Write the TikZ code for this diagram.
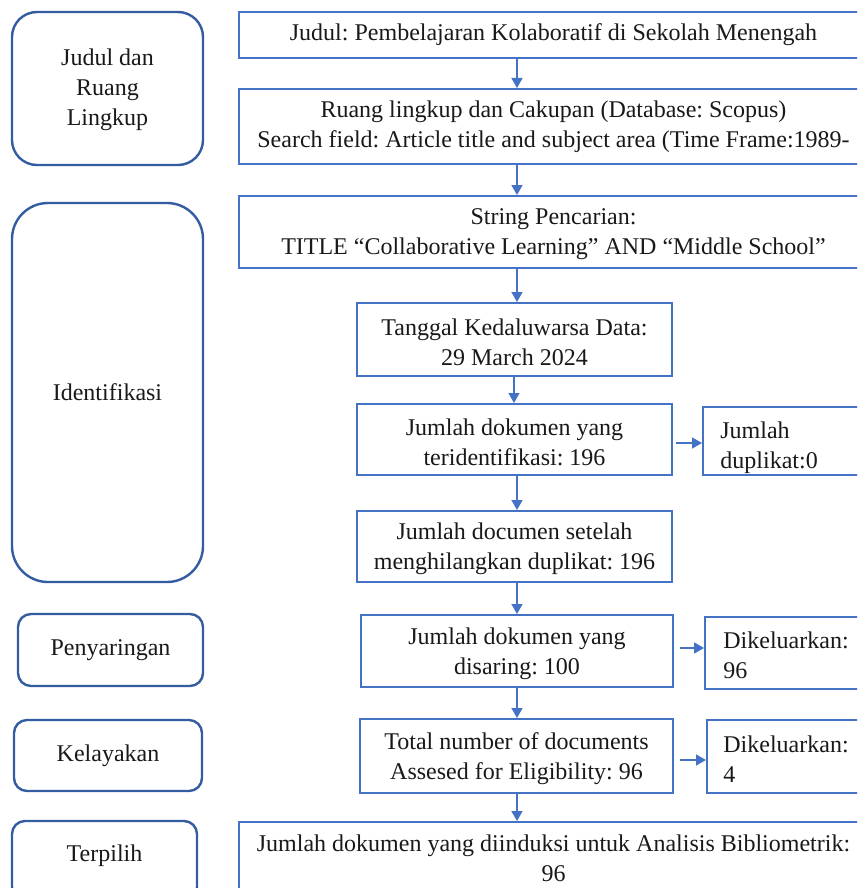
\documentclass[tikz,border=0pt]{standalone}
\usepackage{fontspec}
\setmainfont{Liberation Serif}
\frenchspacing
\usetikzlibrary{arrows.meta}
\definecolor{boxblue}{RGB}{68,114,196}
\definecolor{roundblue}{RGB}{52,92,160}
\definecolor{arrblue}{RGB}{68,114,196}
\definecolor{txt}{RGB}{25,25,25}
\tikzset{
  box/.style={draw=boxblue, line width=1pt, inner sep=0pt, align=center, text=txt, font=\fontsize{12}{15}\selectfont\frenchspacing},
  rbox/.style={draw=roundblue, line width=1.2pt, inner sep=0pt, align=center, text=txt, font=\fontsize{12}{15}\selectfont\frenchspacing, rounded corners=#1},
  rbox/.default=6.5pt,
  lab/.style={inner sep=0pt, align=left, text=txt, font=\fontsize{12}{15}\selectfont\frenchspacing},
  arr/.style={draw=arrblue, line width=0.75pt, -{Triangle[width=5.5pt,length=5pt]}, arrblue}
}
\begin{document}
\begin{tikzpicture}[x=0.5pt,y=-0.5pt]
\useasboundingbox (0,0) rectangle (857,888);
\clip (0,0) rectangle (857,888);
\fill[white] (0,0) rectangle (857,888);
% left rounded boxes
\node[rbox=12.5pt, minimum width=95.5pt, minimum height=76.5pt] (L1) at (107.5,88.5) {};
\node[lab, align=center] (L1t) at (107.5,90) {Judul dan\\Ruang\\Lingkup};
\node[rbox=18pt, minimum width=95.5pt, minimum height=189.5pt] (L2) at (107.5,392.5) {Identifikasi};
\node[rbox, minimum width=92.5pt, minimum height=36pt] (L3) at (110.5,650) {Penyaringan};
\node[rbox, minimum width=94pt, minimum height=35.5pt] (L4) at (108,755.5) {Kelayakan};
\node[rbox, minimum width=92.5pt, minimum height=39.5pt] (L5) at (104.5,860.5) {};
\node[lab] (L5t) at (104.5,856) {Terpilih};
% main column
\node[box, minimum width=314.5pt, minimum height=23pt] (A) at (553.5,35) {Judul: Pembelajaran Kolaboratif di Sekolah Menengah};
\node[box, minimum width=314.5pt, minimum height=37.5pt] (B) at (553.5,126.5) {Ruang lingkup dan Cakupan (Database: Scopus)\\Search field: Article title and subject area (Time Frame:1989-};
\node[box, minimum width=314.5pt, minimum height=36pt] (C) at (553.5,232) {};
\node[lab, align=center] (Ct) at (553.5,234) {String Pencarian:\\TITLE “Collaborative Learning” AND “Middle School”};
\node[box, minimum width=157.5pt, minimum height=36.5pt] (D) at (514.5,339.5) {};
\node[lab, align=center] (Dt) at (514.5,342) {Tanggal Kedaluwarsa Data:\\29 March 2024};
\node[box, minimum width=157.5pt, minimum height=35.5pt] (E) at (514.5,439.5) {};
\node[lab, align=center] (Et) at (514.5,442) {Jumlah dokumen yang\\teridentifikasi: 196};
\node[box, minimum width=157.5pt, minimum height=35.5pt] (G) at (514.5,546.5) {};
\node[lab, align=center] (Gt) at (514.5,548.5) {Jumlah documen setelah\\menghilangkan duplikat: 196};
\node[box, minimum width=156pt, minimum height=36pt] (H) at (517,651) {};
\node[lab, align=center] (Ht) at (517,653.5) {Jumlah dokumen yang\\disaring: 100};
\node[box, minimum width=156.5pt, minimum height=37pt] (I) at (516.5,756) {};
\node[lab, align=center] (It) at (516.5,758.5) {Total number of documents\\Assesed for Eligibility: 96};
\node[box, minimum width=314.5pt, minimum height=39pt] (L) at (553.5,861) {};
\node[lab, align=center] (Lt) at (553.5,858) {Jumlah dokumen yang diinduksi untuk Analisis Bibliometrik:\\96};
% side boxes
\begin{scope}
\clip (703,407) rectangle (880,474);
\node[lab, anchor=north west] (Ft) at (720,421) {Jumlah\\duplikat:0};
\end{scope}
\node[box, minimum width=88.5pt, minimum height=34pt] (F) at (791.5,441) {};
\node[box, minimum width=87.5pt, minimum height=36pt] (J) at (792.5,653) {};
\node[lab, anchor=north west] (Jt) at (723,631) {Dikeluarkan:\\96};
\node[box, minimum width=86.5pt, minimum height=36.5pt] (K) at (793.5,756.5) {};
\node[lab, anchor=north west] (Kt) at (723,735) {Dikeluarkan:\\4};
% connectors
\coordinate (ax) at (517,0);
\draw[arr] (A.south -| ax) -- (B.north -| ax);
\draw[arr] (B.south -| ax) -- (C.north -| ax);
\draw[arr] (C.south -| ax) -- (D.north -| ax);
\draw[arr] (D.south -| 514,0) -- (E.north -| 514,0);
\draw[arr] (E.south -| ax) -- (G.north -| ax);
\draw[arr] (G.south -| ax) -- (H.north -| ax);
\draw[arr] (H.south -| ax) -- (I.north -| ax);
\draw[arr] (I.south -| ax) -- (L.north -| ax);
\draw[arr, shorten <=1.5pt] (E.east |- 0,443) -- (F.west |- 0,443);
\draw[arr, shorten <=3pt] (H.east |- 0,648) -- (J.west |- 0,648);
\draw[arr, shorten <=3pt] (I.east |- 0,760) -- (K.west |- 0,760);
\end{tikzpicture}
\end{document}
